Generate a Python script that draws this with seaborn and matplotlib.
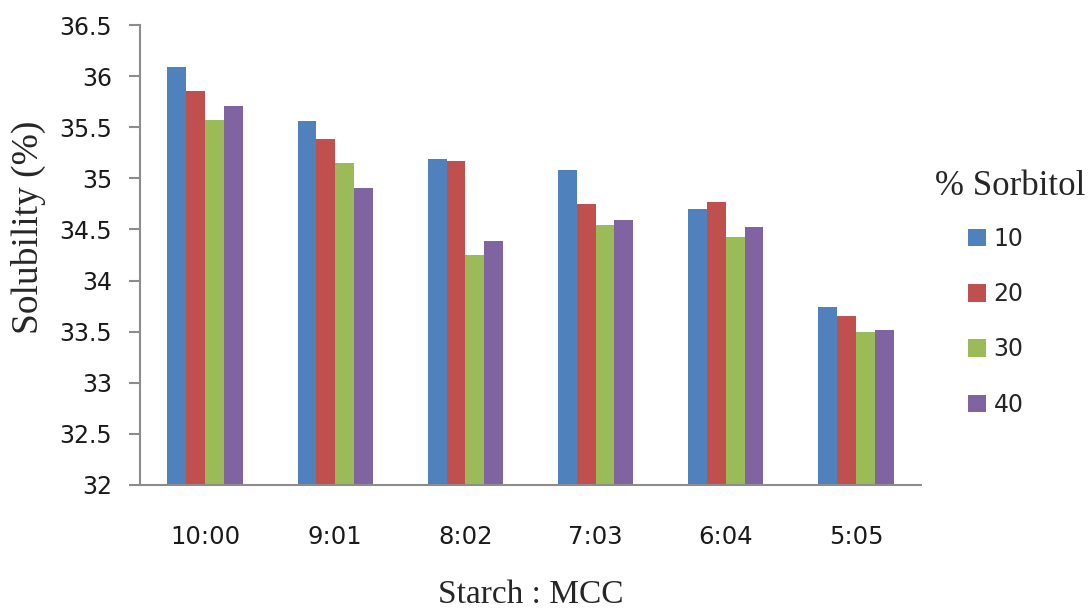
import matplotlib
matplotlib.use("Agg")
import matplotlib.pyplot as plt
import seaborn as sns
import pandas as pd
from matplotlib.patches import Patch

# Starch : MCC ratios on the x axis
ratios = ["10:00", "9:01", "8:02", "7:03", "6:04", "5:05"]
# % sorbitol levels (hue)
sorbitol = ["10", "20", "30", "40"]

# Solubility (%) for each sorbitol level, one value per ratio
sol_10 = [36.09, 35.56, 35.19, 35.08, 34.70, 33.74]
sol_20 = [35.85, 35.38, 35.17, 34.75, 34.77, 33.65]
sol_30 = [35.57, 35.15, 34.25, 34.54, 34.43, 33.50]
sol_40 = [35.71, 34.91, 34.39, 34.59, 34.52, 33.52]

y_ticks = [32, 32.5, 33, 33.5, 34, 34.5, 35, 35.5, 36, 36.5]
colors = ["#4F81BD", "#C0504D", "#9BBB59", "#8064A2"]

rows = []
for level, series in zip(sorbitol, [sol_10, sol_20, sol_30, sol_40]):
    for r, v in zip(ratios, series):
        rows.append({"ratio": r, "sorbitol": level, "solubility": v})
df = pd.DataFrame(rows)

sns.set_style("white")
plt.rcParams["font.family"] = ["DejaVu Sans"]

fig = plt.figure(figsize=(10.88, 6.10), dpi=100)
ax = fig.add_axes([0.1287, 0.205, 0.7178, 0.754])

sns.barplot(data=df, x="ratio", y="solubility", hue="sorbitol",
            order=ratios, hue_order=sorbitol, palette=colors,
            width=0.58, gap=0, linewidth=0, saturation=1, ax=ax, legend=False)

ax.set_ylim(32, 36.5)
ax.set_yticks(y_ticks)
ax.set_yticklabels([f"{t:g}" for t in y_ticks])
ax.set_xlim(-0.5, len(ratios) - 0.5)

for side in ("top", "right"):
    ax.spines[side].set_visible(False)
for side in ("left", "bottom"):
    ax.spines[side].set_color("#8c8c8c")
    ax.spines[side].set_linewidth(1.5)

ax.tick_params(axis="y", direction="out", length=8, width=1.5, color="#8c8c8c",
               labelsize=17, pad=12, labelcolor="#1a1a1a", left=True)
ax.tick_params(axis="x", length=0, labelsize=17.5, pad=29, labelcolor="#1a1a1a")

serif = ["Liberation Serif", "DejaVu Serif"]
ax.set_xlabel("Starch : MCC", family=serif, fontsize=24, labelpad=22)
ax.set_ylabel("Solubility (%)", family=serif, fontsize=27)
ax.yaxis.set_label_coords(-0.120, 0.561)

# legend: serif title placed above the colour swatches
fig.text(1010 / 1088, 1 - 195 / 610, "% Sorbitol", family=serif, fontsize=25,
         ha="center", va="baseline")
handles = [Patch(facecolor=c, edgecolor="none") for c in colors]
fig.legend(handles, sorbitol, loc="upper left",
           bbox_to_anchor=(968 / 1088, 1 - 227 / 610),
           frameon=False, fontsize=17, handlelength=0.75, handleheight=0.75,
           handletextpad=0.34, labelspacing=1.32, borderpad=0, borderaxespad=0)

fig.savefig("out.png", dpi=100)
